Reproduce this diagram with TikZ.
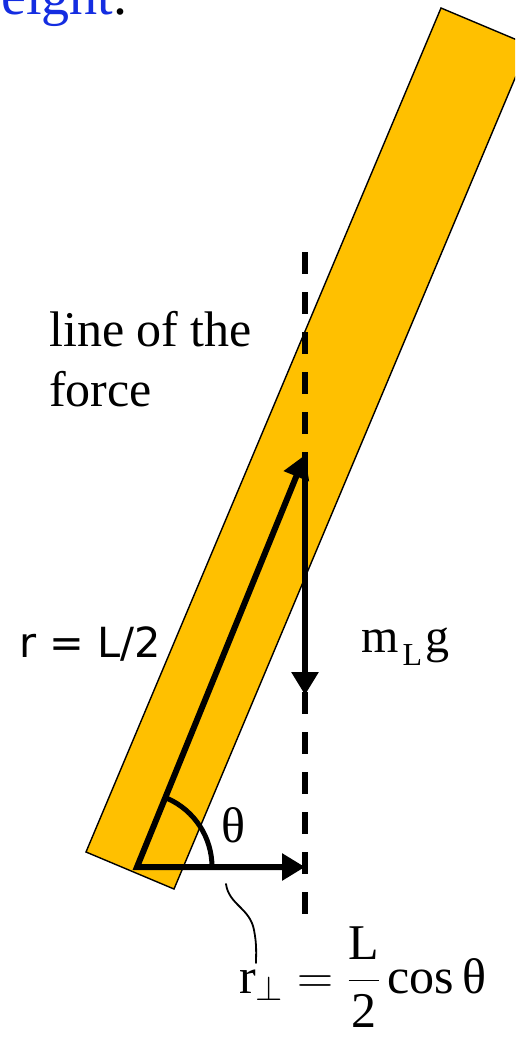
\RequirePackage{fix-cm}
\documentclass[tikz,border=0pt]{standalone}
\usepackage{fontspec}
\setmainfont{Liberation Serif}
\newfontfamily\sansf{DejaVu Sans}
\usetikzlibrary{arrows.meta}
\definecolor{bargold}{RGB}{255,192,0}
\definecolor{titleblue}{RGB}{20,45,225}
\begin{document}
\begin{tikzpicture}[x=1pt,y=-1pt,
  bar/.style={fill=bargold,draw=black,line width=1.4pt,line join=miter},
  forceline/.style={line width=5.5pt,dash pattern=on 22pt off 18pt},
  vec/.style={line width=6pt,line join=miter},
  tipA/.style={-{Triangle[length=23pt,width=26pt]}},
  anglearc/.style={line width=5pt},
  lbl/.style={inner sep=0pt,font=\fontsize{50}{60}\selectfont},
  squiggle/.style={line width=1.8pt,line cap=round}]
\useasboundingbox (0,0) rectangle (515,1041);
\clip (0,0) rectangle (515,1041);
% title fragment
\node[anchor=base west,inner sep=0pt,font=\fontsize{56}{60}\selectfont] (ttl) at (1,15) {\textcolor{titleblue}{eight}.};
% bar
\coordinate (bBL) at (86,852);
\coordinate (bTL) at (441,8);
\coordinate (bTR) at (529,45);
\coordinate (bBR) at (174,889);
\draw[bar] (bBL) -- (bTL) -- (bTR) -- (bBR) -- cycle;
% key points
\coordinate (O) at (137,867);
\coordinate (G) at (305,455);
\coordinate (F) at (305,695);
\coordinate (P) at (305,867);
\coordinate (Dtop) at (305,252);
\coordinate (Dbot) at (305,914);
% line of the force
\draw[forceline] (Dtop) -- (Dbot);
% vectors
\draw[vec,{Triangle[length=23pt,width=26pt]}-{Triangle[length=23pt,width=26pt]}] (G) -- (O) -- (P);
\draw[vec,tipA] (G) -- (F);
% angle arc
\draw[anglearc] ([shift={(0:75)}]O) arc[start angle=0,end angle=-66,radius=75];
% labels
\node[lbl,anchor=north west,align=left] (lof) at (49,311) {line of the\\force};
\node[anchor=base west,inner sep=0pt,font=\sansf\fontsize{41.5}{48}\selectfont] (rlab) at (19,657) {r = L/2};
\node[anchor=base west,inner sep=0pt,font=\fontsize{48}{56}\selectfont] (mlg) at (361,652) {m\kern4pt\raisebox{-13pt}{\fontsize{32}{32}\selectfont L}\kern3pt g};
\node[lbl,anchor=base west] (th) at (221,842) {θ};
\node[lbl,anchor=base west] (form) at (239,993) {$\mbox{r}_{\perp}={\displaystyle\frac{\mbox{L}}{\mbox{2}}}\kern7pt\mbox{cos}\kern9pt\mbox{θ}$};
% squiggle pointer
\coordinate (sq1) at (226,884);
\coordinate (sq2) at (256,963);
\draw[squiggle] (sq1) .. controls (229,905) and (250,908) .. (254,930) .. controls (257,945) and (256,955) .. (sq2);
\end{tikzpicture}
\end{document}
